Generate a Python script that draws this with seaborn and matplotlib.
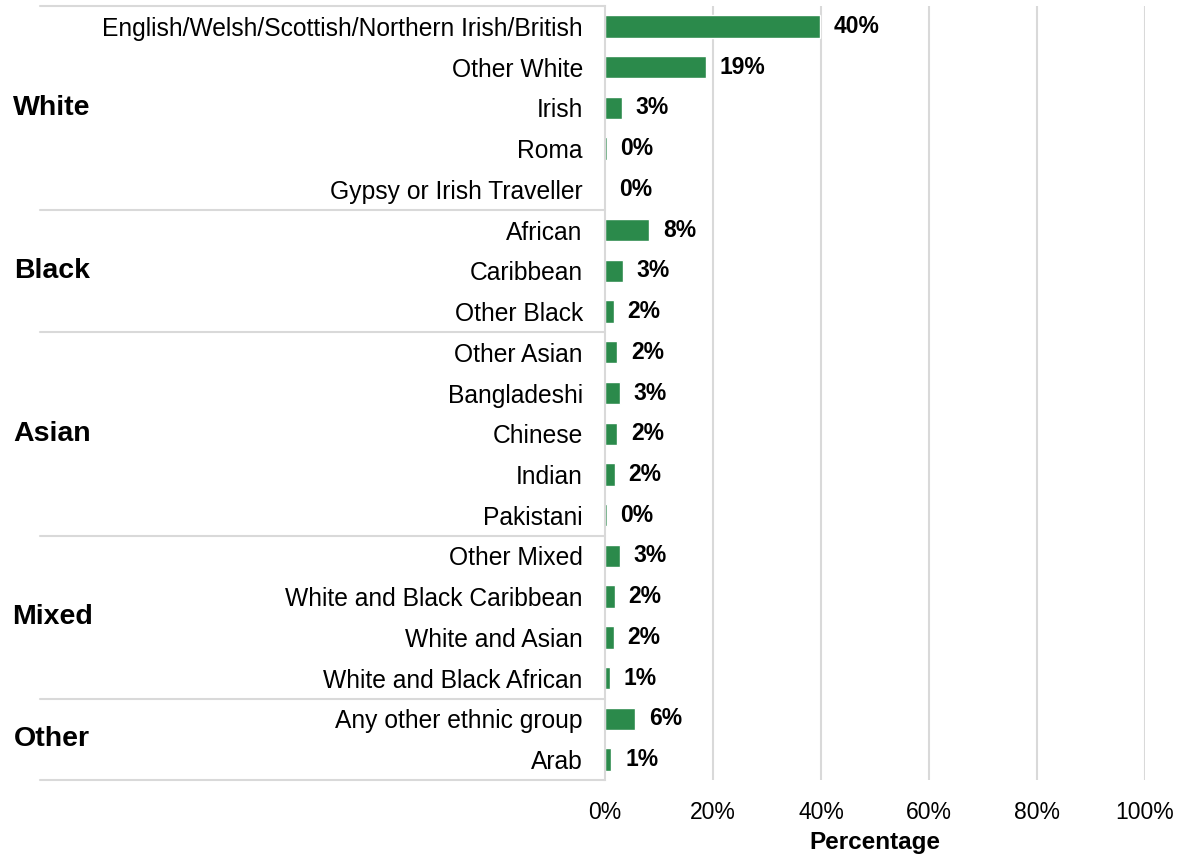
import matplotlib
matplotlib.use("Agg")
import matplotlib.pyplot as plt
import matplotlib.transforms as mtrans
from matplotlib.lines import Line2D
import pandas as pd
import seaborn as sns

# data
groups = ["White", "Black", "Asian", "Mixed", "Other"]
group_members = [
    ["English/Welsh/Scottish/Northern Irish/British", "Other White", "Irish",
     "Roma", "Gypsy or Irish Traveller"],
    ["African", "Caribbean", "Other Black"],
    ["Other Asian", "Bangladeshi", "Chinese", "Indian", "Pakistani"],
    ["Other Mixed", "White and Black Caribbean", "White and Asian",
     "White and Black African"],
    ["Any other ethnic group", "Arab"],
]
pct_values = [39.8, 18.7, 3.1, 0.3, 0.05,
              8.2, 3.3, 1.6,
              2.3, 2.7, 2.3, 1.8, 0.3,
              2.7, 1.8, 1.6, 0.9,
              5.6, 1.2]
x_ticks = [0, 20, 40, 60, 80, 100]

categories = [c for members in group_members for c in members]
df = pd.DataFrame({"Ethnicity": categories, "Pct": pct_values})

BAR = "#2b8a4b"
GRID = "#d9d9d9"

sns.set_theme(style="white")
plt.rcParams["font.family"] = ["Liberation Sans", "DejaVu Sans"]
plt.rcParams["text.color"] = "black"
plt.rcParams["xtick.color"] = "black"
plt.rcParams["ytick.color"] = "black"
plt.rcParams["axes.labelcolor"] = "black"

fig = plt.figure(figsize=(11.78, 8.56), dpi=100)
ax = fig.add_axes([605 / 1178, 1 - 780 / 856, 540 / 1178, 774 / 856])

sns.barplot(data=df, y="Ethnicity", x="Pct", orient="h", color=BAR,
            saturation=1, width=0.55, order=categories, ax=ax)

ax.bar_label(ax.containers[0], labels=[f"{v:.0f}%" for v in pct_values],
             padding=10, fontsize=16.5, fontweight="bold", color="black")

ax.set_xlim(0, 100)
ax.set_ylim(len(categories) - 0.5, -0.5)
ax.set_xticks(x_ticks)
ax.set_xticklabels([f"{t}%" for t in x_ticks], fontsize=16.5)
ax.tick_params(axis="y", labelsize=17.7, length=0, pad=16)
ax.tick_params(axis="x", length=0, pad=15)
ax.set_ylabel("")
ax.set_xlabel("Percentage", fontsize=17.5, fontweight="bold", labelpad=5)

for t in x_ticks[1:]:
    ax.axvline(t, color=GRID, lw=1.5, zorder=0)
for side in ["top", "right", "bottom"]:
    ax.spines[side].set_visible(False)
ax.spines["left"].set_color(GRID)
ax.spines["left"].set_linewidth(1.5)

# group separators and group labels on the left
trans = mtrans.blended_transform_factory(fig.transFigure, ax.transData)
x0 = 40 / 1178
x1 = 605 / 1178
start = 0
bounds = [-0.5]
for g, members in zip(groups, group_members):
    n = len(members)
    mid = start + (n - 1) / 2
    txt = fig.text(52 / 1178, 0, g, fontsize=20.5, fontweight="bold",
                   ha="center", va="center")
    txt.set_transform(trans)
    txt.set_y(mid)
    start += n
    bounds.append(start - 0.5)
for b in bounds:
    fig.add_artist(Line2D([x0, x1], [b, b], transform=trans, color=GRID, lw=1.5))

plt.savefig("out.png", dpi=100)
plt.close()
